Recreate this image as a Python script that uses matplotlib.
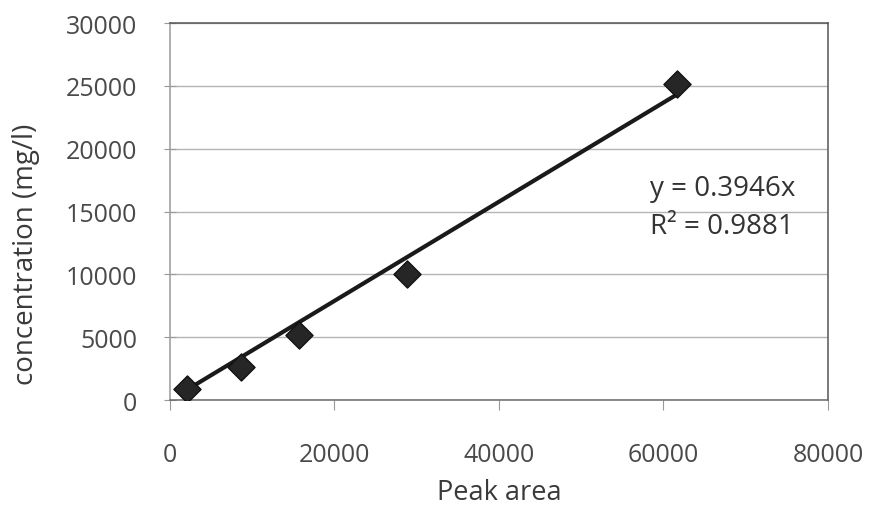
import numpy as np
import matplotlib.pyplot as plt

# calibration points
peak_area = [2070, 8630, 15680, 28800, 61640]
concentration = [875, 2625, 5170, 10020, 25140]
slope = 0.3946
r2 = 0.9881

plt.rcParams['font.family'] = ['Open Sans', 'DejaVu Sans']

fig = plt.figure(figsize=(8.69, 5.10), dpi=100)
ax = fig.add_axes([0.1956, 0.2137, 0.7572, 0.739])

x_fit = np.array([min(peak_area), max(peak_area)])
ax.plot(x_fit, slope * x_fit, color='#1a1a1a', lw=3, zorder=3)
ax.scatter(peak_area, concentration, marker='D', s=190, color='#262626',
           edgecolors='#111111', linewidths=1, zorder=4)

ax.set_xlim(0, 80000)
ax.set_ylim(0, 30000)
ax.set_xticks(np.arange(0, 80001, 20000))
ax.set_yticks(np.arange(0, 30001, 5000))
ax.grid(axis='y', color='#b4b4b4', lw=1)
ax.set_axisbelow(True)

ax.spines['top'].set_color('#555555')
ax.spines['right'].set_color('#555555')
ax.spines['left'].set_color('#9a9a9a')
ax.spines['bottom'].set_color('#6a6a6a')
for s in ax.spines.values():
    s.set_linewidth(1.1)
ax.tick_params(axis='x', direction='out', length=7, color='#999999',
               labelsize=18, labelcolor='#4a4a4a', pad=23)
ax.tick_params(axis='y', direction='inout', length=9, color='#999999',
               labelsize=18, labelcolor='#4a4a4a', pad=19)

ax.set_xlabel('Peak area', fontsize=19.5, color='#3a3a3a', labelpad=8)
ax.set_ylabel('concentration (mg/l)', fontsize=20, color='#3a3a3a')
ax.yaxis.set_label_coords(-0.197, 0.39)

ax.text(0.730, 0.562, 'y = 0.3946x', transform=ax.transAxes, fontsize=20,
        color='#333333', va='center')
ax.text(0.730, 0.462, 'R\u00b2 = ' + f'{r2:.4f}', transform=ax.transAxes,
        fontsize=20, color='#333333', va='center')

fig.savefig('out.png', dpi=100)
